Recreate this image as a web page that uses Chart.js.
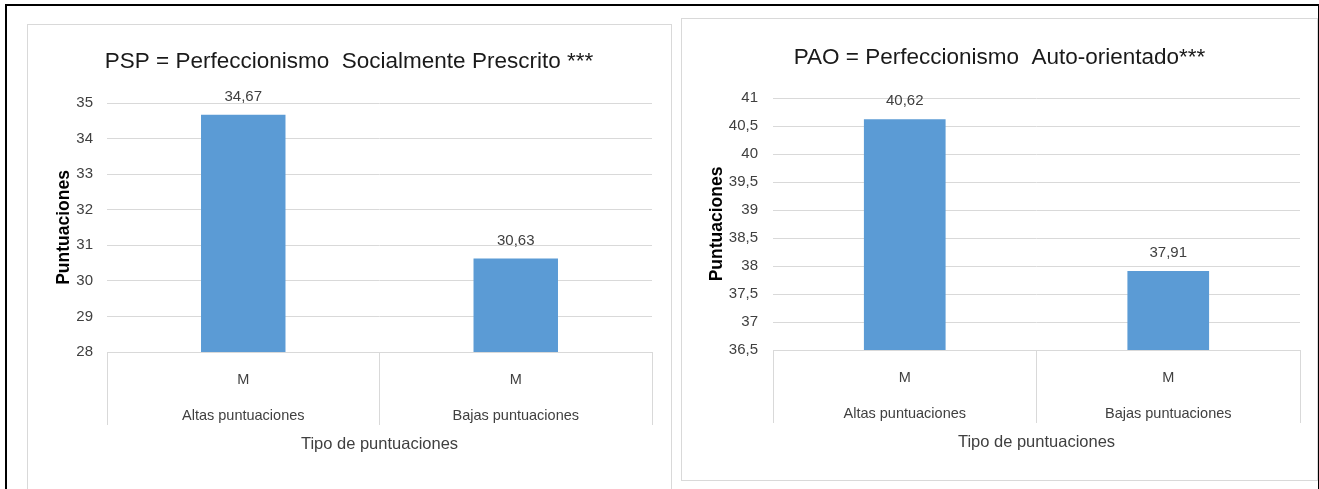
<!DOCTYPE html>
<html>
<head>
<meta charset="utf-8">
<script src="https://cdn.jsdelivr.net/npm/chart.js@4.4.1/dist/chart.umd.min.js"></script>
<style>
  html, body { margin: 0; padding: 0; background: #fff; width: 1319px; height: 489px; overflow: hidden; }
  .frame { position: absolute; left: 5px; top: 4px; width: 1311px; height: 520px; border: 2px solid #000; }
  .panel { position: absolute; background: #fff; border: 1px solid #d9d9d9; box-sizing: border-box; }
  #p1 { left: 27px; top: 24px; width: 645px; height: 480px; }
  #p2 { left: 681px; top: 18px; width: 637px; height: 463px; }
  canvas { position: absolute; }
  #c1 { left: 28px; top: 25px; }
  #c2 { left: 682px; top: 19px; }
</style>
</head>
<body>
<div class="frame"></div>
<div class="panel" id="p1"></div>
<div class="panel" id="p2"></div>
<canvas id="c1" width="642" height="455"></canvas>
<canvas id="c2" width="635" height="461"></canvas>
<script>
// ---- data ----
const categories = ['Altas puntuaciones', 'Bajas puntuaciones'];
const statLabel = 'M';
const pspValues = [34.67, 30.63];
const paoValues = [40.62, 37.91];
const pspTitle = 'PSP = Perfeccionismo  Socialmente Prescrito ***';
const paoTitle = 'PAO = Perfeccionismo  Auto-orientado***';
const yAxisTitle = 'Puntuaciones';
const xAxisTitle = 'Tipo de puntuaciones';
const pspTickMin = 28, pspTickMax = 35, pspTickStep = 1;
const paoTickMin = 36.5, paoTickMax = 41, paoTickStep = 0.5;

const FONT = "'Liberation Sans', Arial, sans-serif";
const fmt = v => Number(v).toFixed(2).replace('.', ',');
const tickFmt = v => String(v).replace('.', ',');

const valueLabels = {
  id: 'valueLabels',
  afterDatasetsDraw(chart) {
    const ctx = chart.ctx;
    ctx.save();
    ctx.font = '15px ' + FONT;
    ctx.fillStyle = '#404040';
    ctx.textAlign = 'center';
    ctx.textBaseline = 'middle';
    chart.data.datasets.forEach((ds, di) => {
      chart.getDatasetMeta(di).data.forEach((el, i) => {
        ctx.fillText(fmt(ds.data[i]), el.x, el.y - 18);
      });
    });
    ctx.restore();
  }
};

function makeChart(id, values, title, tmin, tmax, tstep, L) {
  return new Chart(document.getElementById(id), {
    type: 'bar',
    data: {
      labels: categories.map(c => [statLabel, c]),
      datasets: [{
        data: values,
        backgroundColor: '#5b9bd5',
        borderWidth: 0,
        categoryPercentage: 1,
        barPercentage: 0.31
      }]
    },
    options: {
      responsive: false,
      animation: false,
      devicePixelRatio: 1,
      layout: { padding: { left: L.padSide, right: L.padSide, top: 0, bottom: L.padBottom } },
      plugins: {
        legend: { display: false },
        tooltip: { enabled: false },
        title: {
          display: true,
          text: title,
          color: '#1a1a1a',
          font: { family: FONT, size: 22.5, weight: 'normal', lineHeight: 1.2 },
          padding: { top: L.titleTop, bottom: L.titleBottom }
        }
      },
      scales: {
        x: {
          offset: true,
          grid: { offset: true, drawOnChartArea: false, drawTicks: true, tickLength: 73, color: '#d9d9d9', lineWidth: 1 },
          border: { display: true, color: '#d9d9d9' },
          ticks: {
            color: '#404040',
            font: { family: FONT, size: 14.5, lineHeight: 36.5 / 14.5 },
            padding: -63.5,
            maxRotation: 0, autoSkip: false
          },
          title: {
            display: true, text: xAxisTitle, color: '#404040',
            font: { family: FONT, size: 16.5, lineHeight: 1.2 },
            padding: { top: 0, bottom: 0 }
          },
          afterFit(s) { s.height = L.xHeight; }
        },
        y: {
          min: tmin, max: tmax,
          grid: { drawTicks: false, color: '#d9d9d9', lineWidth: 1 },
          border: { display: false },
          ticks: { stepSize: tstep, color: '#404040', padding: L.tickPad,
                   font: { family: FONT, size: 15 }, callback: tickFmt },
          title: {
            display: true, text: yAxisTitle, color: '#000',
            font: { family: FONT, size: 17.5, weight: 'bold', lineHeight: 1.2 },
            padding: { top: L.yTitlePad, bottom: 0 }
          },
          afterFit(s) { s.width = L.yWidth; }
        }
      }
    },
    plugins: [valueLabels]
  });
}

makeChart('c1', pspValues, pspTitle, pspTickMin, pspTickMax, pspTickStep,
  { padSide: 18, padBottom: 25.6, titleTop: 23.6, titleBottom: 27.4, xHeight: 102.4, yWidth: 61, tickPad: 14, yTitlePad: 7.5 });
makeChart('c2', paoValues, paoTitle, paoTickMin, paoTickMax, paoTickStep,
  { padSide: 17, padBottom: 27.6, titleTop: 25.4, titleBottom: 26.6, xHeight: 102.4, yWidth: 74, tickPad: 15, yTitlePad: 8 });
</script>
</body>
</html>
